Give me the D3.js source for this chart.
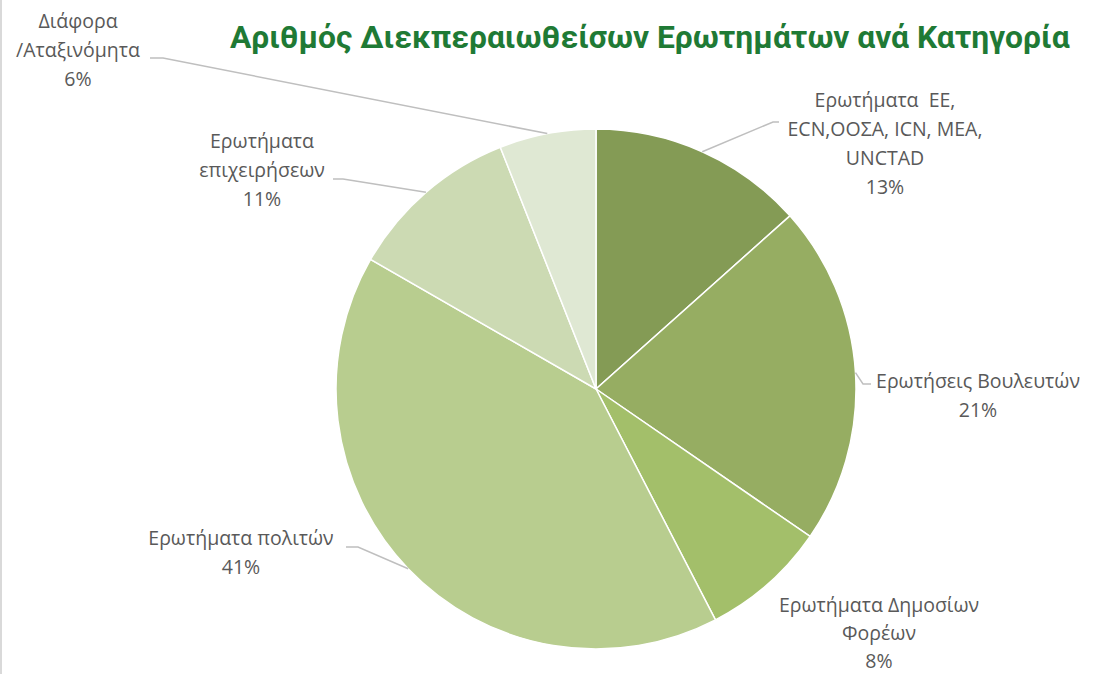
<!DOCTYPE html>
<html>
<head>
<meta charset="utf-8">
<script src="https://cdn.jsdelivr.net/npm/d3@7"></script>
<style>
  html, body { margin: 0; padding: 0; background: #fff; }
  svg { display: block; }
  text { white-space: pre; }
</style>
</head>
<body>
<svg id="chart" width="1099" height="674"></svg>
<script>
// Pie: handled questions by category
(function() {
    // Data (shares; labels show rounded values)
    const categories = [
        ['Ερωτήματα  ΕΕ,', 'ECN,ΟΟΣΑ, ICN, MEA,', 'UNCTAD'],
        ['Ερωτήσεις Βουλευτών'],
        ['Ερωτήματα Δημοσίων', 'Φορέων'],
        ['Ερωτήματα πολιτών'],
        ['Ερωτήματα', 'επιχειρήσεων'],
        ['Διάφορα', '/Αταξινόμητα']
    ];
    const shares = [13.4, 21.2, 7.8, 40.9, 10.7, 6.0];
    const percentLabels = ['13%', '21%', '8%', '41%', '11%', '6%'];
    const colors = ['#849B55', '#96AD62', '#A3BF6A', '#B8CD8F', '#CCDAB3', '#DFE8D3'];

    const svg = d3.select('#chart');
    const cx = 596, cy = 389, radius = 260;

    // Layout of labels: centre x, first line y, elbow and end of leader line
    const labelLayout = [
        { x: 885, y: 107, elbow: [773, 122], end: [779, 122] },
        { x: 978, y: 388, elbow: [863, 384], end: [871, 384] },
        { x: 879, y: 612, lh: 28, elbow: null, end: null },
        { x: 241, y: 545, elbow: [358, 547], end: [346, 547] },
        { x: 262, y: 148, elbow: [343, 179], end: [333, 179] },
        { x: 78, y: 28, elbow: [163, 58], end: [150, 58] }
    ];
    const lineHeight = 29;

    // left border of chart area
    svg.append('line')
        .attr('x1', 1).attr('x2', 1)
        .attr('y1', 0).attr('y2', 674)
        .attr('stroke', '#D9D9D9')
        .attr('stroke-width', 2);

    // Title
    const title = svg.append('text')
        .attr('x', 0)
        .attr('y', 48)
        .attr('font-family', 'Roboto, sans-serif')
        .attr('font-weight', 'bold')
        .attr('font-size', '31px')
        .attr('fill', '#1F7A35')
        .text('Αριθμός Διεκπεραιωθείσων Ερωτημάτων ανά Κατηγορία');
    const tw = title.node().getComputedTextLength();
    const targetW = 840;
    title.attr('transform', `translate(230,0) scale(${targetW / tw},1)`);

    const g = svg.append('g')
        .attr('transform', `translate(${cx}, ${cy})`);

    const pie = d3.pie().sort(null).value(d => d);
    const arcs = pie(shares);
    const arc = d3.arc().innerRadius(0).outerRadius(radius);

    g.selectAll('path.slice')
        .data(arcs)
        .join('path')
        .attr('class', 'slice')
        .attr('d', arc)
        .attr('fill', (d, i) => colors[i])
        .attr('stroke', '#fff')
        .attr('stroke-width', 1.5);

    // Leader lines
    arcs.forEach((d, i) => {
        const lay = labelLayout[i];
        if (!lay.elbow) return;
        const mid = (d.startAngle + d.endAngle) / 2;
        const px = cx + radius * Math.sin(mid);
        const py = cy - radius * Math.cos(mid);
        svg.append('polyline')
            .attr('points', [[px, py], lay.elbow, lay.end].map(p => p.join(',')).join(' '))
            .attr('fill', 'none')
            .attr('stroke', '#BFBFBF')
            .attr('stroke-width', 1.5);
    });

    // Labels
    categories.forEach((lines, i) => {
        const lay = labelLayout[i];
        const lh = lay.lh || lineHeight;
        const t = svg.append('text')
            .attr('text-anchor', 'middle')
            .attr('font-family', '"Open Sans", "Noto Sans", sans-serif')
            .attr('font-size', '19.5px')
            .attr('fill', '#595959');
        lines.concat([percentLabels[i]]).forEach((ln, k) => {
            t.append('tspan')
                .attr('x', lay.x)
                .attr('y', lay.y + k * lh)
                .text(ln);
        });
    });
})();
</script>
</body>
</html>
